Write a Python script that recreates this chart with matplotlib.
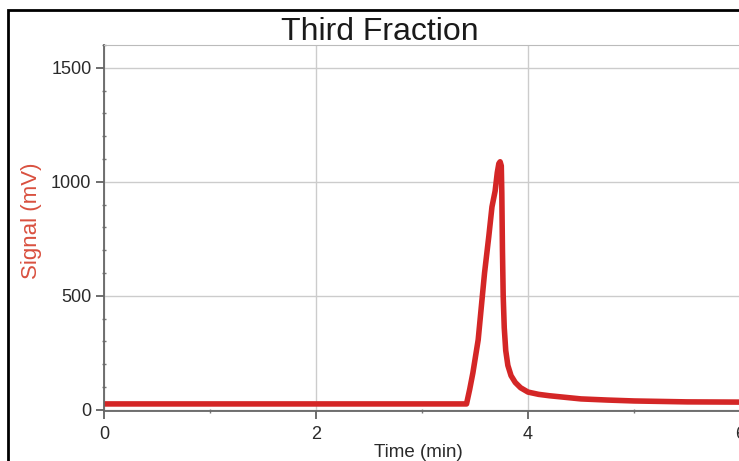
import matplotlib.pyplot as plt
from matplotlib.patches import Rectangle
from matplotlib.ticker import MultipleLocator

# chromatogram trace
time_min = [0.0, 1.0, 2.0, 3.0, 3.42, 3.45, 3.48, 3.53, 3.59, 3.63, 3.66, 3.69,
            3.71, 3.725, 3.737, 3.748, 3.753, 3.759, 3.766, 3.776, 3.79, 3.81,
            3.84, 3.88, 3.93, 4.0, 4.1, 4.2, 4.35, 4.5, 4.75, 5.0, 5.5, 6.0]
signal_mv = [26, 26, 26, 26, 26, 90, 162, 307, 600, 760, 890, 960,
             1040, 1080, 1088, 1070, 950, 700, 500, 360, 260, 195,
             150, 120, 97, 78, 68, 62, 55, 48, 43, 39, 35, 34]

x_ticks = [0, 2, 4, 6]
y_ticks = [0, 500, 1000, 1500]

plt.rcParams['font.family'] = ['Liberation Sans', 'DejaVu Sans']

fig = plt.figure(figsize=(7.39, 4.61), dpi=100)
fig.patches.append(Rectangle((8 / 739, -0.1), 1.1, (461 - 10) / 461 + 0.1,
                             transform=fig.transFigure, fill=False,
                             edgecolor='black', linewidth=2))

ax = fig.add_axes([104 / 739, 50 / 461, 636 / 739, 366 / 461])
ax.plot(time_min, signal_mv, color='#d42626', linewidth=4, solid_capstyle='round')

ax.set_xlim(0, 6)
ax.set_ylim(-5, 1600)
ax.set_xticks(x_ticks)
ax.set_yticks(y_ticks)
ax.xaxis.set_minor_locator(MultipleLocator(1))
ax.yaxis.set_minor_locator(MultipleLocator(100))
ax.grid(True, which='major', color='#cccccc', linewidth=1)
ax.set_axisbelow(True)

ax.tick_params(which='major', length=6, width=1.2, color='#555555',
               labelsize=13, labelcolor='#2a2a2a', pad=3)
ax.tick_params(axis='x', which='major', pad=5)
ax.tick_params(which='minor', length=3, width=1, color='#777777', direction='inout')
for side in ['left', 'bottom']:
    ax.spines[side].set_color('#666666')
    ax.spines[side].set_linewidth(1.3)
ax.spines['top'].set_color('#bbbbbb')
ax.spines['right'].set_visible(False)

ax.set_xlabel('Time (min)', fontsize=13.5, color='#2a2a2a')
ax.xaxis.set_label_coords(0.494, -0.091)
ax.set_ylabel('Signal (mV)', fontsize=16, color='#d9503f')
ax.yaxis.set_label_coords(-0.097, 0.52)

fig.text(380 / 739, 1 - 32 / 461, 'Third Fraction', fontsize=23,
         ha='center', va='center', color='#1a1a1a')

fig.savefig('out.png', dpi=100)
